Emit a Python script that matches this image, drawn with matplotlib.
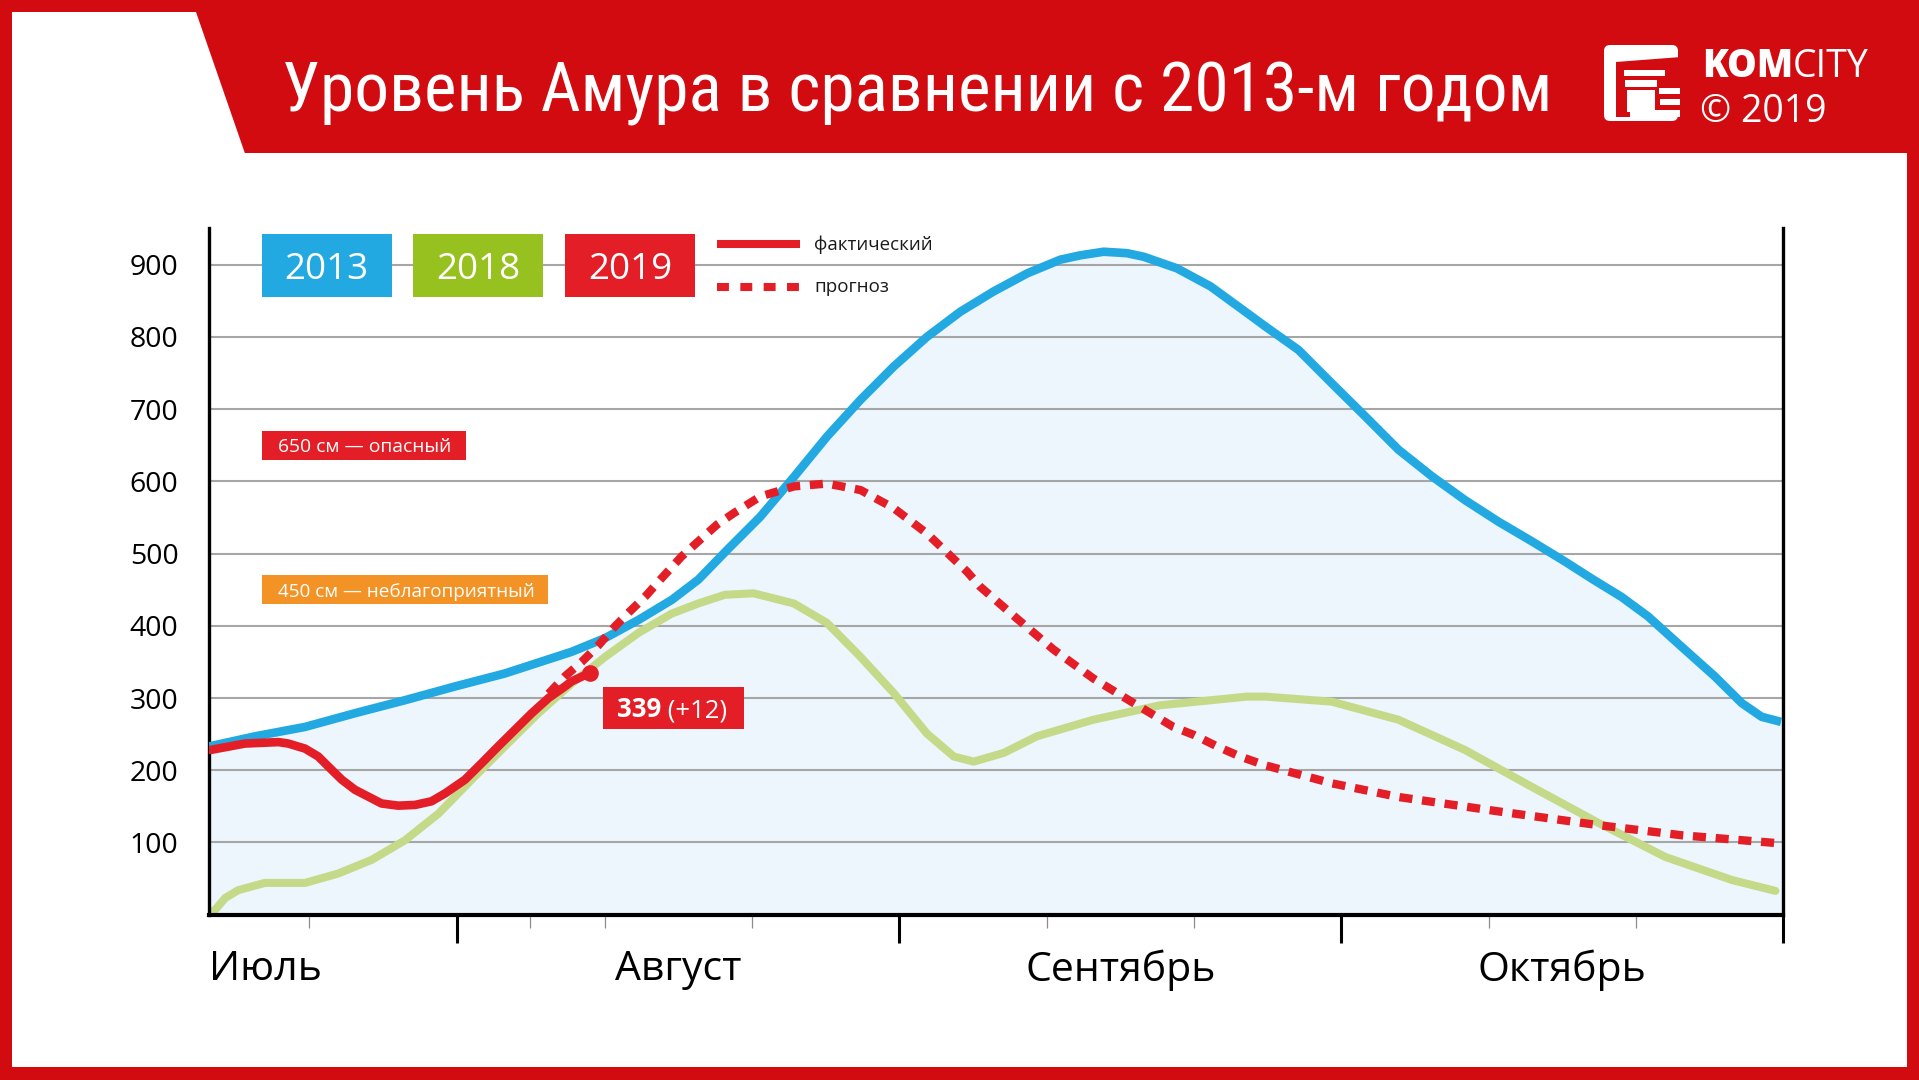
import matplotlib
matplotlib.use('Agg')
import matplotlib.pyplot as plt
from matplotlib import font_manager
from matplotlib.patches import Rectangle, Polygon, FancyBboxPatch

# ---------------- data ----------------
title = 'Уровень Амура в сравнении с 2013-м годом'
months = ['Июль', 'Август', 'Сентябрь', 'Октябрь']
y_ticks = [100, 200, 300, 400, 500, 600, 700, 800, 900]
legend_years = ['2013', '2018', '2019']
legend_lines = ['фактический', 'прогноз']
level_labels = ['650 см — опасный', '450 см — неблагоприятный']
level_values = [650, 450]

# x = month index (Июль = 0, Август = 1, ...)
x_2013 = [0.438, 0.542, 0.655, 0.768, 0.881, 0.994, 1.107, 1.258, 1.334, 1.409, 1.485, 1.545,
          1.610, 1.685, 1.761, 1.836, 1.912, 1.987, 2.062, 2.138, 2.213, 2.289, 2.364, 2.409,
          2.462, 2.515, 2.553, 2.628, 2.704, 2.787, 2.827, 2.903, 2.978, 3.054, 3.129, 3.205,
          3.280, 3.356, 3.431, 3.506, 3.570, 3.634, 3.694, 3.770, 3.845, 3.906, 3.951, 3.995]
v_2013 = [233, 247, 260, 279, 297, 316, 334, 364, 383, 408, 436, 464,
          505, 551, 606, 662, 713, 759, 800, 835, 863, 888, 907, 913,
          918, 916, 911, 895, 870, 833, 815, 782, 736, 690, 644, 607,
          574, 544, 517, 489, 464, 440, 413, 371, 330, 293, 274, 267]

x_2018 = [0.440, 0.452, 0.474, 0.504, 0.564, 0.655, 0.730, 0.806, 0.881, 0.957, 1.032, 1.107,
          1.183, 1.258, 1.334, 1.409, 1.485, 1.545, 1.605, 1.670, 1.761, 1.836, 1.912, 1.987,
          2.062, 2.123, 2.168, 2.236, 2.311, 2.439, 2.590, 2.787, 2.827, 2.978, 3.129, 3.280,
          3.431, 3.582, 3.733, 3.884, 3.982]
v_2018 = [3, 7, 23, 34, 44, 44, 57, 76, 103, 140, 187, 233,
          279, 320, 357, 390, 417, 431, 443, 445, 431, 404, 357, 307,
          251, 219, 212, 224, 247, 270, 290, 302, 302, 295, 270, 228,
          177, 127, 80, 48, 33]

x_2019 = [0.440, 0.519, 0.595, 0.617, 0.655, 0.685, 0.708, 0.738, 0.768, 0.806, 0.828, 0.866,
          0.904, 0.941, 0.972, 1.017, 1.055, 1.092, 1.130, 1.168, 1.206, 1.243, 1.258, 1.300]
v_2019 = [228, 237, 239, 237, 230, 219, 205, 187, 173, 161, 154, 151,
          152, 157, 168, 187, 210, 233, 256, 279, 300, 316, 323, 335]

x_forecast = [1.206, 1.243, 1.281, 1.319, 1.356, 1.390, 1.424, 1.462, 1.507, 1.545, 1.587, 1.625,
              1.685, 1.761, 1.836, 1.912, 1.987, 2.062, 2.153, 2.183, 2.266, 2.349, 2.439, 2.530,
              2.620, 2.666, 2.719, 2.771, 2.827, 2.978, 3.129, 3.356, 3.582, 3.770, 3.988]
v_forecast = [306, 330, 350, 373, 399, 420, 440, 466, 496, 517, 540, 556,
              579, 593, 597, 588, 563, 528, 475, 454, 410, 367, 327, 293,
              260, 249, 233, 219, 207, 182, 163, 143, 124, 110, 99]

current_x = 1.300
current_v = 335
current_label = '339'
current_delta = ' (+12)'

month_boundaries = [1, 2, 3, 4]
minor_ticks = [0.665, 1.165, 1.333, 1.667, 2.333, 2.667, 3.333, 3.667]
x_range = (0.4377, 4.0)
y_range = (0, 951)

# ---------------- style ----------------
RED_HEAD = '#d20b11'
RED = '#e41e26'
BLUE = '#22a9e1'
GREEN_BOX = '#96c11f'
GREEN_LINE = '#c5da88'
ORANGE = '#f39325'
FILL = '#edf5fd'
GRID = '#a6a6a6'

plt.rcParams['font.family'] = ['Open Sans', 'DejaVu Sans']
plt.rcParams['lines.scale_dashes'] = False

names = {f.name for f in font_manager.fontManager.ttflist}
cond_kw = None
for c in ['Liberation Sans Narrow', 'Roboto Condensed', 'Open Sans Condensed', 'Noto Sans Condensed']:
    if c in names:
        cond_kw = dict(family=[c, 'DejaVu Sans'])
        break
if cond_kw is None:
    if any(f.name == 'DejaVu Sans' and str(f.stretch) == 'condensed' for f in font_manager.fontManager.ttflist):
        cond_kw = dict(family='DejaVu Sans', stretch='condensed')
    else:
        cond_kw = dict(family=['Open Sans', 'DejaVu Sans'])

W, H = 1919, 1080
fig = plt.figure(figsize=(W / 100, H / 100), dpi=100)
renderer = fig.canvas.get_renderer()


def fit(t, maxw):
    w = t.get_window_extent(renderer).width
    if w > maxw:
        t.set_fontsize(t.get_fontsize() * maxw / w)


# background / frame
bg = fig.add_axes([0, 0, 1, 1], zorder=0)
bg.set_xlim(0, W)
bg.set_ylim(H, 0)
bg.axis('off')
bg.add_patch(Rectangle((0, 0), W, H, color=RED_HEAD, lw=0))
bg.add_patch(Rectangle((12, 153), 1895, 914, color='white', lw=0))
bg.add_patch(Polygon([(12, 12), (196, 12), (245, 153.5), (12, 153.5)], closed=True, color='white', lw=0))

# ---------------- main chart ----------------
ax = fig.add_axes([209 / W, 1 - 914.7 / H, (1783.3 - 209) / W, (914.7 - 227.9) / H], zorder=2)
ax.set_facecolor('none')
ax.set_xlim(*x_range)
ax.set_ylim(*y_range)

ax.fill_between(x_2013, v_2013, 0, color=FILL, lw=0, zorder=0.2)
ax.set_axisbelow(True)
ax.yaxis.grid(True, color=GRID, lw=1.5)
ax.xaxis.grid(False)

ax.plot(x_2018, v_2018, color=GREEN_LINE, lw=5.8, solid_joinstyle='round', solid_capstyle='round', zorder=2)
ax.plot(x_2013, v_2013, color=BLUE, lw=6.2, solid_joinstyle='round', solid_capstyle='butt', zorder=3)
ax.plot(x_2019, v_2019, color=RED, lw=6.2, solid_joinstyle='round', solid_capstyle='round', zorder=4)
ax.plot(x_forecast, v_forecast, color=RED, lw=6.0, dashes=(9.4, 7.0), dash_capstyle='butt', zorder=5)
ax.plot([current_x], [current_v], 'o', color=RED, ms=12, mec='none', zorder=6)

for s in ['left', 'right']:
    ax.spines[s].set_color('black')
    ax.spines[s].set_linewidth(2.4)
ax.spines['bottom'].set_color('black')
ax.spines['bottom'].set_linewidth(3)
ax.spines['top'].set_visible(False)

ax.set_yticks(y_ticks)
ax.set_yticklabels([str(v) for v in y_ticks])
ax.tick_params(axis='y', length=0, pad=22, labelsize=20.5, labelcolor='black')
ax.set_xticks(month_boundaries)
ax.set_xticklabels([''] * len(month_boundaries))
ax.set_xticks(minor_ticks, minor=True)
ax.tick_params(axis='x', which='major', length=20, width=2.2, color='black', direction='out')
ax.tick_params(axis='x', which='minor', length=9.5, width=0.9, color='#8c8c8c', direction='out')

xt = ax.get_xaxis_transform()
for i, m in enumerate(months):
    if i == 0:
        ax.text(x_range[0], -0.0805, m, transform=xt, ha='left', va='center', fontsize=29.5, color='black')
    else:
        ax.text(i + 0.5, -0.0805, m, transform=xt, ha='center', va='center', fontsize=29.5, color='black')

# ---------------- foreground decorations ----------------
fg = fig.add_axes([0, 0, 1, 1], zorder=3)
fg.set_xlim(0, W)
fg.set_ylim(H, 0)
fg.axis('off')

# title
t = fg.text(916.7, 112, title, ha='center', va='baseline', color='white', fontsize=60, **cond_kw)
fit(t, 1272)

# logo icon
fg.add_patch(FancyBboxPatch((1604, 45), 74, 76, boxstyle='round,pad=0,rounding_size=6', color='white', lw=0))
fg.add_patch(Polygon([(1616, 62), (1681, 57), (1681, 110), (1630, 110), (1630, 117), (1616, 117)],
                     closed=True, color=RED_HEAD, lw=0))
for (x0, y0, w, h) in [(1623.5, 69.5, 41.5, 6.5), (1625, 80, 32, 7), (1626.5, 90, 28.5, 21.5),
                       (1658.5, 87.5, 21, 6.5), (1660, 98.5, 19.5, 6.5), (1630, 110, 50, 7)]:
    fg.add_patch(Rectangle((x0, y0), w, h, color='white', lw=0))
tk = fg.text(1701.7, 76.7, 'KOM', color='white', fontsize=27, fontweight='heavy', va='baseline', ha='left')
fg.annotate('CITY', xy=(1, 0), xycoords=tk, ha='left', va='bottom', color='white', fontsize=27)
fg.text(1700, 121.7, '© 2019', color='white', fontsize=27, va='baseline', ha='left')

# year legend boxes
box_colors = [BLUE, GREEN_BOX, RED]
for i, (yr, c) in enumerate(zip(legend_years, box_colors)):
    x0 = 261.7 + i * 151.7
    fg.add_patch(Rectangle((x0, 234), 130, 63.3, color=c, lw=0))
    fg.text(x0 + 65, 279.3, yr, ha='center', va='baseline', color='white', fontsize=26.5)

# line-style legend
fg.plot([717, 800], [244, 244], color=RED, lw=5.8, solid_capstyle='butt')
fg.plot([717, 800], [286.7, 286.7], color=RED, lw=5.8, dashes=(8.6, 8.2), dash_capstyle='butt')
fg.text(814.3, 250, legend_lines[0], ha='left', va='baseline', fontsize=13.5, color='#1a1a1a')
fg.text(814.3, 291.7, legend_lines[1], ha='left', va='baseline', fontsize=13.5, color='#1a1a1a')

# level labels (placed at their levels)
to_px = lambda v: 914.7 - v * (914.7 - 227.9) / y_range[1]
for lab, lv, c, w in zip(level_labels, level_values, [RED, ORANGE], [204, 286.6]):
    yc = to_px(lv)
    fg.add_patch(Rectangle((261.7, yc - 14.5), w, 29, color=c, lw=0))
    tt = fg.text(277.7, yc + 7.2, lab, ha='left', va='baseline', color='white', fontsize=14)
    fit(tt, w - 30)

# current value label
fg.add_patch(Rectangle((603.3, 686.7), 140.7, 42.3, color=RED, lw=0))
t1 = fg.text(616.7, 717, current_label, ha='left', va='baseline', color='white', fontsize=18.5, fontweight='bold')
fg.annotate(current_delta, xy=(1, 0), xycoords=t1, ha='left', va='bottom', color='white', fontsize=18.5)

fig.savefig('out.png', dpi=100)
